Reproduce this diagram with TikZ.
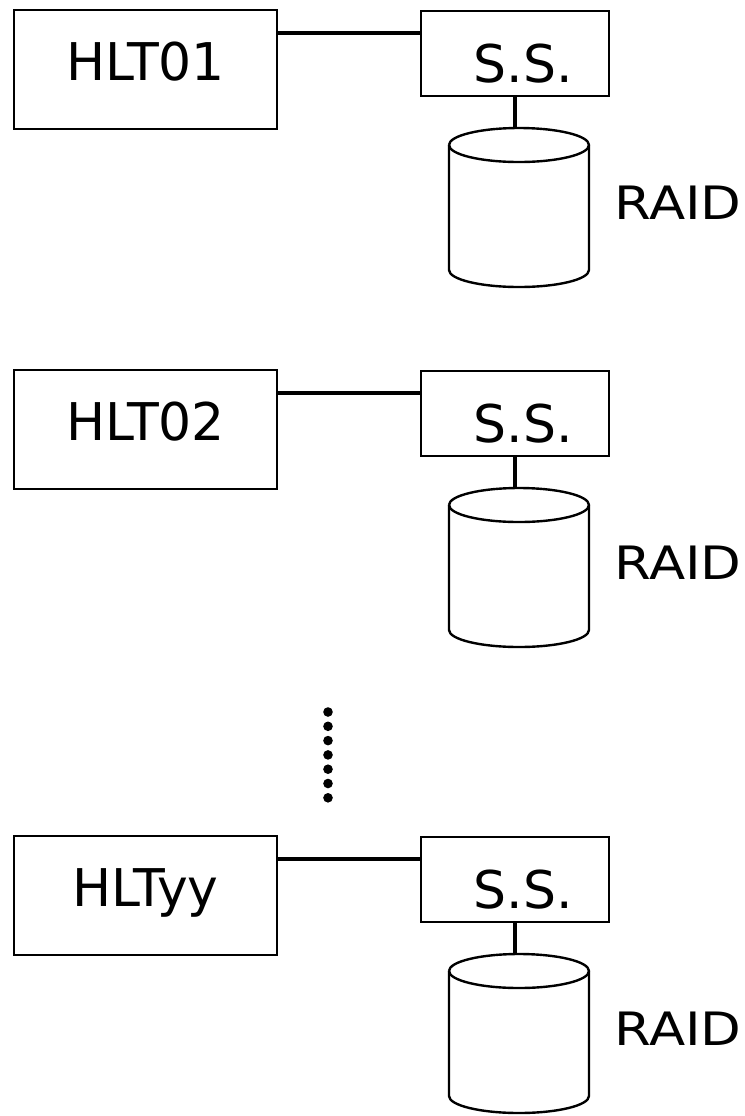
\documentclass[tikz,border=0pt]{standalone}
\usepackage{fontspec}
\setmainfont{DejaVu Sans}
\usetikzlibrary{calc}

\begin{document}
\begin{tikzpicture}
% one unit = one pixel of the sheet
[
    x=0.5pt, y=0.5pt,
    hltbox/.style={draw, line width=1pt, inner sep=0pt, anchor=north west,
      minimum width=131.5pt, minimum height=59.5pt,
      text height=19pt, text depth=8pt, font=\fontsize{26}{30}\selectfont},
    ssbox/.style={draw, line width=1pt, inner sep=0pt, anchor=north west,
      minimum width=94pt, minimum height=42.5pt,
      text height=28.5pt, text depth=0pt, font=\fontsize{26}{30}\selectfont},
    raidlbl/.style={inner sep=0pt, anchor=west, xscale=1.15, transform shape,
      font=\fontsize{23}{27}\selectfont},
    link/.style={line width=2.2pt},
    disk/.style={line width=1.2pt}
]
\useasboundingbox (0,0) rectangle (745,-1116);

% one node with its server and raid per row
\foreach \o/\name [count=\i] in {0/HLT01, 360/HLT02, 826/HLTyy}{
  \node[hltbox] (hlt\i) at (13,{-9-\o}) {\name};
  \node[ssbox] (ss\i) at (420,{-10-\o}) {\hspace*{8pt}S.S.};
  \draw[link] ($(ss\i.north west)+(0,-23)$) coordinate (j\i) -- (j\i -| hlt\i.east);

  % raid cylinder
  \pgfmathsetmacro{\yt}{-145-\o} % centre of top ellipse
  \pgfmathsetmacro{\yb}{-270-\o} % centre of bottom ellipse
  \coordinate (top\i) at (519,{-128-\o});
  \draw[disk] (449,\yt) -- (449,\yb) arc (180:360:70 and 17) -- (589,\yt)
    arc (0:180:70 and 17);
  \draw[disk] (449,\yt) arc (180:360:70 and 17);
  \draw[link] (ss\i.south) -- (ss\i.south |- top\i);
  \node[raidlbl] (raid\i) at (614,{-203-\o}) {RAID};
}

% dots between the rows
\foreach \k in {0,...,6}
  \fill (328,{-712-14.3*\k}) circle (2.4pt);
\end{tikzpicture}
\end{document}
